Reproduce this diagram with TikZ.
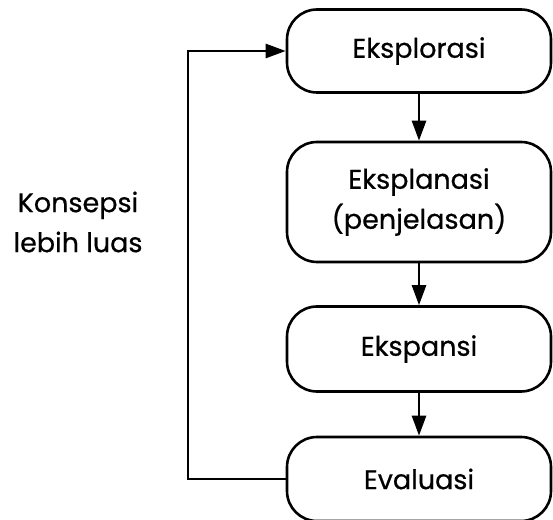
\documentclass[tikz,border=0pt]{standalone}
\usepackage{fontspec}
\setmainfont{Poppins}[FakeBold=0.6]
\usetikzlibrary{arrows.meta, positioning}

\begin{document}
\begin{tikzpicture}[x=1pt, y=1pt, >={Triangle[length=20pt,width=14pt]},
  box/.style={draw, line width=2.6pt, rounded corners=30pt, minimum width=264pt,
    align=center, font=\fontsize{27}{40}\selectfont},
  flow/.style={->, line width=2.6pt}]
  \useasboundingbox (0,0) rectangle (553,519);
  % the four phases, top to bottom
  \node[box, minimum height=83pt] (eksplor) at (419,468) {Eksplorasi};
  \node[box, minimum height=120pt] (eksplan) at (419,317) {Eksplanasi\\(penjelasan)};
  \node[box, minimum height=85pt] (ekspansi) at (419,170) {Ekspansi};
  \node[box, minimum height=84pt] (evaluasi) at (419,40) {Evaluasi};
  \draw[flow] (eksplor) -- (eksplan);
  \draw[flow] (eksplan) -- (ekspansi);
  \draw[flow] (ekspansi) -- (evaluasi);
  % feedback loop back to the start
  \coordinate (turn) at (188,0);
  \draw[flow] (evaluasi.west) -- (evaluasi.west -| turn) |- (eksplor.west);
  \node[align=center, font=\fontsize{27}{40}\selectfont] (konsepsi) at (78,297) {Konsepsi\\lebih luas};
\end{tikzpicture}
\end{document}
